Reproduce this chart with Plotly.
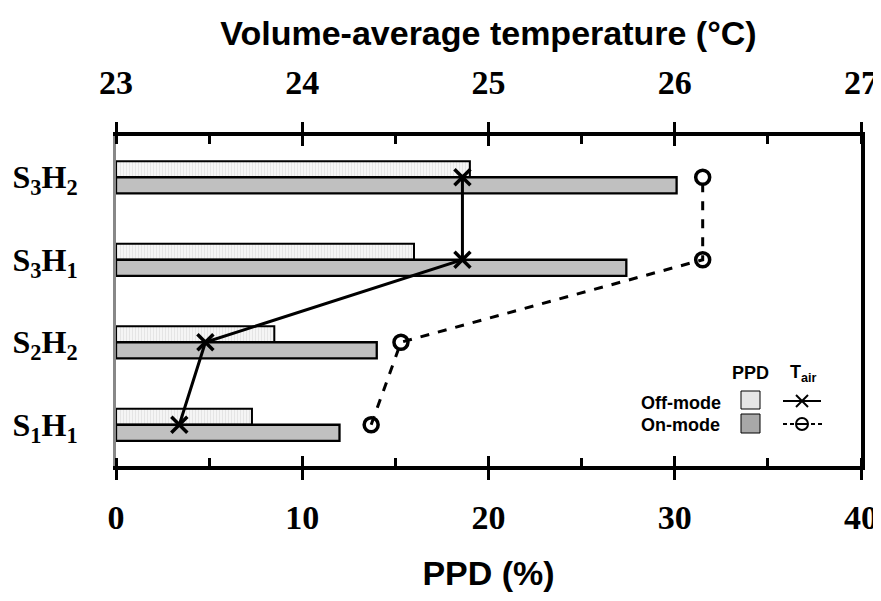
import plotly.graph_objects as go

categories = ["S1H1", "S2H2", "S3H1", "S3H2"]
tick_labels = ["S<sub>1</sub>H<sub>1</sub>", "S<sub>2</sub>H<sub>2</sub>",
               "S<sub>3</sub>H<sub>1</sub>", "S<sub>3</sub>H<sub>2</sub>"]
ppd_off = [7.3, 8.5, 16.0, 19.0]
ppd_on = [12.0, 14.0, 27.4, 30.1]
tair_off = [23.34, 23.48, 24.86, 24.86]
tair_on = [24.37, 24.53, 26.15, 26.15]

ppd_ticks = [0, 10, 20, 30, 40]
temp_ticks = [23, 24, 25, 26, 27]

W, H = 881, 601
OFF = 8  # page body offset
L, T = 116 - OFF, 136 - OFF
R = W - (861 - OFF)
B = H - (466 - OFF)
PW, PH = W - L - R, H - T - B


def px(xp):
    return (xp - OFF - L) / PW


def py(yp):
    return (H - B - (yp - OFF)) / PH


SERIF = "Liberation Serif"
SANS = "Liberation Sans"
BW = 0.195

fig = go.Figure()

fig.add_trace(go.Bar(
    y=categories, x=ppd_off, orientation="h", width=BW, offset=0,
    marker=dict(color="#f3f3f3", line=dict(color="black", width=2),
                pattern=dict(shape="|", fgcolor="#d6d6d6", bgcolor="#f5f5f5", size=3, solidity=0.35)),
    xaxis="x", yaxis="y", showlegend=False, name="Off-mode PPD"))
fig.add_trace(go.Bar(
    y=categories, x=ppd_on, orientation="h", width=BW, offset=-BW,
    marker=dict(color="#c0c0c0", line=dict(color="black", width=2.3)),
    xaxis="x", yaxis="y", showlegend=False, name="On-mode PPD"))

# empty helper traces for tick-crossing helper axes
fig.add_trace(go.Scatter(x=[], y=[], xaxis="x3", yaxis="y", showlegend=False, hoverinfo="skip"))
fig.add_trace(go.Scatter(x=[], y=[], xaxis="x4", yaxis="y", showlegend=False, hoverinfo="skip"))
fig.add_trace(go.Scatter(x=[], y=[], xaxis="x", yaxis="y2", showlegend=False, hoverinfo="skip"))

fig.add_trace(go.Scatter(
    y=categories, x=tair_off, mode="lines+markers", xaxis="x2", yaxis="y",
    line=dict(color="black", width=3),
    marker=dict(symbol="x-thin", size=16, line=dict(color="black", width=3.5), color="black"),
    showlegend=False, name="Off-mode Tair"))
fig.add_trace(go.Scatter(
    y=categories, x=tair_on, mode="lines+markers", xaxis="x2", yaxis="y",
    line=dict(color="black", width=3, dash="dash"),
    marker=dict(symbol="circle-open", size=14, line=dict(color="black", width=3.5), color="black"),
    showlegend=False, name="On-mode Tair"))

tickfont = dict(family=SERIF, size=34, color="black", weight="bold")
ytickfont = dict(family=SERIF, size=32, color="black", weight="bold")
titlefont = dict(family=SANS, size=34, color="black", weight="bold")

fig.update_layout(
    width=W, height=H,
    margin=dict(l=L, r=R, t=T, b=B),
    paper_bgcolor="white", plot_bgcolor="white",
    barmode="overlay",
    xaxis=dict(range=[0, 40], side="bottom", anchor="y", tickvals=ppd_ticks,
               ticks="outside", ticklen=10, tickwidth=3, tickcolor="black",
               showline=True, linewidth=4, linecolor="black", showgrid=False, zeroline=False,
               tickfont=tickfont, ticklabelstandoff=8,
               minor=dict(ticks="inside", ticklen=8, tickwidth=3, tickcolor="black", dtick=5, showgrid=False),
               title=dict(text="PPD (%)", font=titlefont, standoff=27), automargin=False),
    xaxis3=dict(range=[0, 40], side="bottom", anchor="y", overlaying="x", tickvals=ppd_ticks,
                ticks="inside", ticklen=10, tickwidth=3, tickcolor="black",
                showticklabels=False, showline=False, showgrid=False, zeroline=False),
    xaxis2=dict(range=[23, 27], side="top", anchor="y", overlaying="x", tickvals=temp_ticks,
                ticks="outside", ticklen=10, tickwidth=3, tickcolor="black",
                showline=True, linewidth=4, linecolor="black", showgrid=False, zeroline=False,
                tickfont=tickfont, ticklabelstandoff=14,
                minor=dict(ticks="inside", ticklen=8, tickwidth=3, tickcolor="black", dtick=0.5, showgrid=False),
                title=dict(text="Volume-average temperature (°C)", font=titlefont, standoff=10), automargin=False),
    xaxis4=dict(range=[23, 27], side="top", anchor="y", overlaying="x", tickvals=temp_ticks,
                ticks="inside", ticklen=10, tickwidth=3, tickcolor="black",
                showticklabels=False, showline=False, showgrid=False, zeroline=False),
    yaxis=dict(type="category", categoryorder="array", categoryarray=categories,
               range=[-0.5, 3.5], tickvals=categories, ticktext=tick_labels,
               ticks="", showline=True, linewidth=3, linecolor="#888888", showgrid=False,
               zeroline=False, tickfont=ytickfont, ticklabelstandoff=29, automargin=False),
    yaxis2=dict(overlaying="y", side="right", anchor="x", range=[-0.5, 3.5],
                showline=True, linewidth=4, linecolor="black", ticks="", showticklabels=False,
                showgrid=False, zeroline=False),
)

# custom legend (table layout)
legfont = dict(family=SANS, size=18, color="black", weight="bold")
fig.add_annotation(xref="paper", yref="paper", x=px(750), y=py(373), text="PPD",
                   showarrow=False, font=legfont, xanchor="center", yanchor="middle")
fig.add_annotation(xref="paper", yref="paper", x=px(803), y=py(373), text="T<sub>air</sub>",
                   showarrow=False, font=legfont, xanchor="center", yanchor="middle")
fig.add_annotation(xref="paper", yref="paper", x=px(723), y=py(403), text="Off-mode",
                   showarrow=False, font=legfont, xanchor="right", yanchor="middle")
fig.add_annotation(xref="paper", yref="paper", x=px(722), y=py(425), text="On-mode",
                   showarrow=False, font=legfont, xanchor="right", yanchor="middle")

fig.add_shape(type="rect", xref="paper", yref="paper", x0=px(741), x1=px(760), y0=py(409), y1=py(391),
              fillcolor="#e6e6e6", line=dict(color="black", width=1))
fig.add_shape(type="rect", xref="paper", yref="paper", x0=px(741), x1=px(760), y0=py(433), y1=py(414),
              fillcolor="#a8a8a8", line=dict(color="black", width=1))
fig.add_shape(type="line", xref="paper", yref="paper", x0=px(783), x1=px(821), y0=py(401), y1=py(401),
              line=dict(color="black", width=2))
fig.add_shape(type="line", xref="paper", yref="paper", x0=px(796), x1=px(808), y0=py(395), y1=py(407),
              line=dict(color="black", width=2))
fig.add_shape(type="line", xref="paper", yref="paper", x0=px(796), x1=px(808), y0=py(407), y1=py(395),
              line=dict(color="black", width=2))
fig.add_shape(type="line", xref="paper", yref="paper", x0=px(783), x1=px(822), y0=py(424), y1=py(424),
              line=dict(color="black", width=2, dash="4px,3px"))
fig.add_shape(type="circle", xref="paper", yref="paper", x0=px(796), x1=px(808), y0=py(430), y1=py(418),
              fillcolor="white", line=dict(color="black", width=2))
fig.add_shape(type="line", xref="paper", yref="paper", x0=px(796), x1=px(808), y0=py(424), y1=py(424),
              line=dict(color="black", width=2))

fig.write_html("out.html")
